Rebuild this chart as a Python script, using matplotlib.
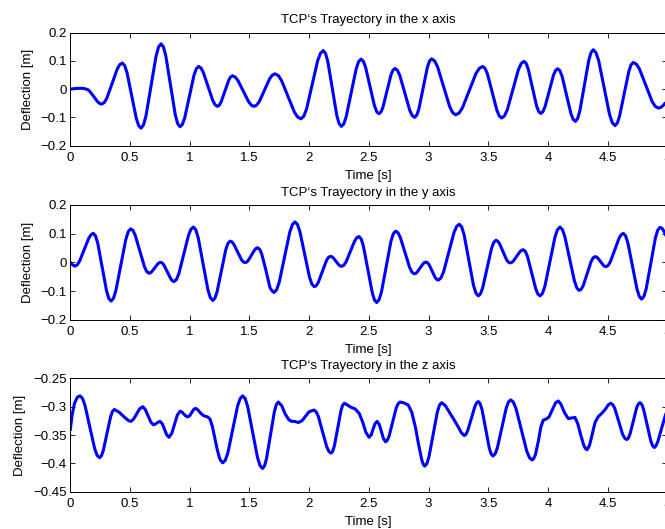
import matplotlib
matplotlib.use("Agg")
import matplotlib.pyplot as plt
from matplotlib.ticker import FixedLocator, FuncFormatter

plt.rcParams['font.family'] = ['Liberation Sans', 'DejaVu Sans']
plt.rcParams['font.size'] = 9.5

# ---------------- data ----------------
t_x = [0.0, 0.04, 0.09, 0.115, 0.13, 0.1466, 0.163, 0.1965, 0.23, 0.2464, 0.263,
       0.285, 0.306, 0.350, 0.393, 0.414, 0.436,
       0.4555, 0.475, 0.514, 0.553, 0.5725, 0.592,
       0.613, 0.634, 0.676, 0.718, 0.739, 0.760,
       0.780, 0.800, 0.8395, 0.879, 0.899, 0.919,
       0.9385, 0.958, 0.997, 1.036, 1.0555, 1.075,
       1.0946, 1.114, 1.1535, 1.193, 1.2124, 1.232,
       1.2478, 1.2635, 1.295, 1.3265, 1.3422, 1.358,
       1.3806, 1.403, 1.4485, 1.494, 1.5164, 1.539,
       1.5609, 1.583, 1.6265, 1.670, 1.6921, 1.714,
       1.7413, 1.7685, 1.823, 1.8775, 1.9048, 1.932,
       1.9554, 1.979, 2.0255, 2.072, 2.0956, 2.119,
       2.1379, 2.157, 2.1945, 2.232, 2.2511, 2.270,
       2.2906, 2.311, 2.3525, 2.394, 2.4144, 2.435,
       2.4538, 2.4725, 2.510, 2.5475, 2.5663, 2.585,
       2.6018, 2.6185, 2.652, 2.6855, 2.7023, 2.719,
       2.7396, 2.760, 2.8015, 2.843, 2.8634, 2.884,
       2.9018, 2.9195, 2.955, 2.9905, 3.0083, 3.026,
       3.0513, 3.0765, 3.127, 3.1775, 3.2028, 3.228,
       3.2563, 3.2845, 3.341, 3.3975, 3.4258, 3.454,
       3.4739, 3.494, 3.5335, 3.573, 3.5931, 3.613,
       3.6364, 3.660, 3.7065, 3.753, 3.7766, 3.800,
       3.8175, 3.835, 3.870, 3.905, 3.9225, 3.940,
       3.9578, 3.9755, 4.011, 4.0465, 4.0643, 4.082,
       4.1005, 4.119, 4.156, 4.193, 4.2115, 4.230,
       4.2488, 4.2675, 4.305, 4.3425, 4.3613, 4.380,
       4.4028, 4.4255, 4.471, 4.5165, 4.5393, 4.562,
       4.5811, 4.600, 4.6385, 4.677, 4.6959, 4.715,
       4.7413, 4.7675, 4.820, 4.8725, 4.8988, 4.925,
       4.945, 4.965, 4.98, 5.0]

x_defl = [0.0, 0.002, 0.003, 0.002, 0.0, -0.002, -0.0077, -0.0265, -0.0453, -0.051, -0.053,
          -0.0475, -0.032, 0.0195, 0.071, 0.0865, 0.092,
          0.083, 0.058, -0.023, -0.104, -0.129, -0.138,
          -0.1267, -0.094, 0.011, 0.116, 0.1487, 0.160,
          0.149, 0.117, 0.0135, -0.090, -0.122, -0.133,
          -0.125, -0.102, -0.0265, 0.049, 0.072, 0.080,
          0.0746, 0.059, 0.0095, -0.040, -0.0556, -0.061,
          -0.0569, -0.045, -0.007, 0.031, 0.0429, 0.047,
          0.0429, 0.031, -0.007, -0.045, -0.0569, -0.061,
          -0.0566, -0.044, -0.0035, 0.037, 0.0496, 0.054,
          0.048, 0.031, -0.0255, -0.082, -0.099, -0.105,
          -0.0958, -0.070, 0.0155, 0.101, 0.1268, 0.136,
          0.1258, 0.097, 0.002, -0.093, -0.1218, -0.132,
          -0.123, -0.097, -0.013, 0.071, 0.097, 0.106,
          0.0987, 0.078, 0.0095, -0.059, -0.0797, -0.087,
          -0.0809, -0.064, -0.007, 0.050, 0.0669, 0.073,
          0.0664, 0.048, -0.0135, -0.075, -0.0934, -0.100,
          -0.0921, -0.070, 0.0035, 0.077, 0.0991, 0.107,
          0.0995, 0.078, 0.008, -0.062, -0.0835, -0.091,
          -0.0845, -0.066, -0.0055, 0.055, 0.0735, 0.080,
          0.0731, 0.053, -0.011, -0.075, -0.0951, -0.102,
          -0.0944, -0.073, -0.002, 0.069, 0.0904, 0.098,
          0.091, 0.071, 0.006, -0.059, -0.079, -0.086,
          -0.080, -0.063, -0.007, 0.049, 0.066, 0.072,
          0.0649, 0.045, -0.021, -0.087, -0.1069, -0.114,
          -0.1044, -0.077, 0.0125, 0.102, 0.1294, 0.139,
          0.1288, 0.100, 0.005, -0.090, -0.1188, -0.129,
          -0.1205, -0.096, -0.0175, 0.061, 0.0855, 0.094,
          0.0879, 0.0705, 0.0135, -0.0435, -0.0609, -0.067,
          -0.065, -0.058, -0.051, -0.043]

t_y = [0.0, 0.01, 0.02, 0.03, 0.039,
       0.0583, 0.0775, 0.116, 0.1545, 0.1738, 0.193,
       0.2115, 0.230, 0.267, 0.304, 0.3225, 0.341,
       0.3616, 0.382, 0.4235, 0.465, 0.4854, 0.506,
       0.5251, 0.544, 0.5825, 0.621, 0.6399, 0.659,
       0.6713, 0.6835, 0.708, 0.7325, 0.7448, 0.757,
       0.771, 0.785, 0.813, 0.841, 0.855, 0.869,
       0.8893, 0.9095, 0.950, 0.9905, 1.0108, 1.031,
       1.0513, 1.0715, 1.112, 1.1525, 1.1728, 1.193,
       1.2111, 1.229, 1.2655, 1.302, 1.3199, 1.338,
       1.3538, 1.3695, 1.401, 1.4325, 1.4483, 1.464,
       1.4773, 1.4905, 1.517, 1.5435, 1.5568, 1.570,
       1.587, 1.604, 1.638, 1.672, 1.689, 1.706,
       1.728, 1.750, 1.794, 1.838, 1.860, 1.882,
       1.9023, 1.9225, 1.963, 2.0035, 2.0238, 2.044,
       2.0608, 2.0775, 2.111, 2.1445, 2.1613, 2.178,
       2.1899, 2.202, 2.2255, 2.249, 2.2611, 2.273,
       2.2911, 2.309, 2.3455, 2.382, 2.3999, 2.418,
       2.4365, 2.455, 2.492, 2.529, 2.5475, 2.566,
       2.5859, 2.606, 2.6455, 2.685, 2.7051, 2.725,
       2.7445, 2.764, 2.803, 2.842, 2.8615, 2.881,
       2.8933, 2.9055, 2.930, 2.9545, 2.9668, 2.979,
       2.9919, 3.005, 3.0305, 3.056, 3.0691, 3.082,
       3.104, 3.126, 3.170, 3.214, 3.236, 3.258,
       3.2779, 3.298, 3.3375, 3.377, 3.3971, 3.417,
       3.4355, 3.454, 3.491, 3.528, 3.5465, 3.565,
       3.5798, 3.5945, 3.624, 3.6535, 3.6683, 3.683,
       3.6969, 3.711, 3.7385, 3.766, 3.7801, 3.794,
       3.8115, 3.829, 3.864, 3.899, 3.9165, 3.934,
       3.9549, 3.9755, 4.0175, 4.059, 4.0801, 4.101,
       4.1213, 4.1415, 4.182, 4.2225, 4.2428, 4.263,
       4.2795, 4.296, 4.329, 4.362, 4.3785, 4.395,
       4.4065, 4.418, 4.441, 4.464, 4.4755, 4.487,
       4.5051, 4.523, 4.5595, 4.596, 4.6139, 4.632,
       4.6511, 4.670, 4.7085, 4.747, 4.7659, 4.785,
       4.8043, 4.8235, 4.862, 4.9005, 4.9198, 4.939,
       4.955, 4.97, 4.985, 5.0]

y_defl = [0.0, -0.005, -0.009, -0.0118, -0.013,
          -0.0087, 0.004, 0.044, 0.084, 0.0967, 0.101,
          0.092, 0.0665, -0.017, -0.1005, -0.126, -0.135,
          -0.1254, -0.098, -0.009, 0.080, 0.1074, 0.117,
          0.1111, 0.094, 0.0395, -0.015, -0.0321, -0.038,
          -0.0366, -0.032, -0.019, -0.0055, -0.0014, 0.0,
          -0.0025, -0.010, -0.0335, -0.057, -0.0645, -0.067,
          -0.0598, -0.039, 0.028, 0.095, 0.1158, 0.123,
          0.1133, 0.0855, -0.005, -0.0955, -0.1233, -0.133,
          -0.1251, -0.103, -0.0295, 0.044, 0.0661, 0.074,
          0.0712, 0.063, 0.0365, 0.010, 0.0018, -0.001,
          0.001, 0.0066, 0.025, 0.0434, 0.049, 0.051,
          0.0451, 0.028, -0.027, -0.088, -0.0991, -0.105,
          -0.0957, -0.069, 0.018, 0.105, 0.1317, 0.141,
          0.1324, 0.108, 0.028, -0.052, -0.0764, -0.085,
          -0.081, -0.0695, -0.032, 0.0055, 0.017, 0.021,
          0.0197, 0.016, 0.0035, -0.009, -0.0127, -0.014,
          -0.010, 0.001, 0.038, 0.075, 0.086, 0.090,
          0.0813, 0.056, -0.025, -0.106, -0.1313, -0.140,
          -0.1305, -0.1035, -0.0155, 0.0725, 0.0995, 0.109,
          0.1033, 0.087, 0.0345, -0.018, -0.0343, -0.040,
          -0.0384, -0.034, -0.0195, -0.005, -0.0006, 0.001,
          -0.0014, -0.008, -0.0305, -0.053, -0.0596, -0.062,
          -0.0546, -0.0335, 0.0355, 0.1045, 0.1256, 0.133,
          0.1235, 0.0965, 0.008, -0.0805, -0.1075, -0.117,
          -0.1096, -0.0885, -0.020, 0.0485, 0.0696, 0.077,
          0.074, 0.0655, 0.0375, 0.0095, 0.001, -0.002,
          -0.0003, 0.0047, 0.021, 0.0373, 0.0423, 0.044,
          0.0379, 0.0205, -0.0365, -0.0935, -0.1109, -0.117,
          -0.1079, -0.082, 0.003, 0.088, 0.1139, 0.123,
          0.1146, 0.0905, 0.0125, -0.0655, -0.0896, -0.098,
          -0.0935, -0.081, -0.039, 0.003, 0.0155, 0.020,
          0.0187, 0.015, 0.0025, -0.010, -0.0137, -0.015,
          -0.0106, 0.002, 0.043, 0.084, 0.0966, 0.101,
          0.0923, 0.0675, -0.0135, -0.0945, -0.1193, -0.128,
          -0.1185, -0.0915, -0.003, 0.0855, 0.1125, 0.122,
          0.119, 0.110, 0.097, 0.082]

t_z = [0.0, 0.015, 0.035, 0.06, 0.081,
       0.1015, 0.122, 0.163, 0.204, 0.2245, 0.245,
       0.2605, 0.276, 0.307, 0.338, 0.3535, 0.369,
       0.41, 0.45, 0.49, 0.508,
       0.53, 0.555, 0.58, 0.606,
       0.628, 0.651, 0.674, 0.696,
       0.71, 0.724, 0.738, 0.751,
       0.77, 0.789, 0.808, 0.827,
       0.85, 0.873, 0.896, 0.919,
       0.935, 0.951, 0.967, 0.983,
       1.0, 1.0165, 1.033, 1.050,
       1.07, 1.09, 1.11, 1.13, 1.15, 1.17, 1.19, 1.21, 1.23, 1.25, 1.263, 1.277,
       1.2979, 1.319, 1.3605, 1.402, 1.4231, 1.444,
       1.4648, 1.4855, 1.527, 1.5685, 1.5893, 1.610,
       1.6265, 1.643, 1.676, 1.709, 1.7255, 1.742,
       1.77, 1.80, 1.83, 1.854, 1.88, 1.91, 1.94, 1.97, 2.0, 2.041,
       2.0589, 2.077, 2.1125, 2.148, 2.1661, 2.184,
       2.1979, 2.212, 2.2395, 2.267, 2.2811, 2.295,
       2.32, 2.35, 2.385, 2.42, 2.45, 2.475, 2.502,
       2.52, 2.535, 2.552, 2.569,
       2.587, 2.6045, 2.622, 2.64,
       2.6551, 2.67, 2.70, 2.73, 2.7459, 2.761,
       2.79, 2.83, 2.86, 2.89, 2.92, 2.945, 2.957, 2.968,
       2.9858, 3.0035, 3.039, 3.0745, 3.0923, 3.110,
       3.14, 3.17, 3.208, 3.25, 3.275, 3.300,
       3.3146, 3.329, 3.3585, 3.388, 3.4024, 3.417,
       3.4324, 3.448, 3.4785, 3.509, 3.5246, 3.540,
       3.5585, 3.577, 3.614, 3.651, 3.6695, 3.688,
       3.7105, 3.733, 3.778, 3.823, 3.8455, 3.868,
       3.88, 3.895, 3.92, 3.94, 3.96, 3.985, 4.01, 4.04, 4.065, 4.087,
       4.11, 4.14, 4.171, 4.2, 4.227, 4.25, 4.275, 4.30, 4.315, 4.327,
       4.338, 4.35, 4.375, 4.395, 4.42, 4.45, 4.48, 4.505, 4.526,
       4.5428, 4.56, 4.593, 4.626, 4.6433, 4.66,
       4.6739, 4.688, 4.7155, 4.743, 4.7571, 4.771,
       4.7861, 4.801, 4.8315, 4.862, 4.8769, 4.892,
       4.905, 4.92, 4.95, 4.98, 5.0]

z_defl = [-0.341, -0.315, -0.294, -0.283, -0.281,
          -0.2851, -0.297, -0.3355, -0.374, -0.3859, -0.390,
          -0.3868, -0.3776, -0.3475, -0.3174, -0.3082, -0.305,
          -0.310, -0.318, -0.325, -0.326,
          -0.322, -0.313, -0.304, -0.300,
          -0.305, -0.316, -0.327, -0.332,
          -0.331, -0.329, -0.327, -0.326,
          -0.330, -0.340, -0.350, -0.354,
          -0.347, -0.331, -0.315, -0.308,
          -0.3095, -0.313, -0.3165, -0.318,
          -0.316, -0.3105, -0.305, -0.303,
          -0.306, -0.311, -0.315, -0.317, -0.318, -0.322, -0.335, -0.355, -0.375, -0.391, -0.396, -0.399,
          -0.3945, -0.382, -0.340, -0.298, -0.2855, -0.281,
          -0.2859, -0.2997, -0.345, -0.3903, -0.4041, -0.409,
          -0.4046, -0.392, -0.3505, -0.309, -0.2964, -0.292,
          -0.298, -0.313, -0.323, -0.326, -0.326, -0.328, -0.325, -0.317, -0.309, -0.306,
          -0.3089, -0.317, -0.344, -0.371, -0.3791, -0.382,
          -0.3787, -0.369, -0.338, -0.307, -0.2973, -0.294,
          -0.297, -0.301, -0.304, -0.312, -0.328, -0.345, -0.354,
          -0.350, -0.340, -0.330, -0.326,
          -0.331, -0.343, -0.356, -0.362,
          -0.3593, -0.352, -0.327, -0.302, -0.2947, -0.292,
          -0.293, -0.297, -0.310, -0.336, -0.370, -0.395, -0.402, -0.405,
          -0.4007, -0.389, -0.349, -0.309, -0.2973, -0.293,
          -0.298, -0.308, -0.321, -0.336, -0.346, -0.351,
          -0.3487, -0.342, -0.321, -0.300, -0.2933, -0.291,
          -0.2946, -0.305, -0.339, -0.373, -0.3834, -0.387,
          -0.3832, -0.3725, -0.3375, -0.3025, -0.2918, -0.288,
          -0.292, -0.3035, -0.341, -0.3785, -0.390, -0.394,
          -0.392, -0.385, -0.361, -0.337, -0.324, -0.322, -0.318, -0.304, -0.293, -0.290,
          -0.296, -0.311, -0.321, -0.320, -0.319, -0.330, -0.350, -0.368, -0.374, -0.376,
          -0.373, -0.367, -0.345, -0.328, -0.318, -0.312, -0.305, -0.297, -0.294,
          -0.2964, -0.303, -0.326, -0.349, -0.3556, -0.358,
          -0.3555, -0.348, -0.3255, -0.302, -0.2955, -0.293,
          -0.296, -0.3045, -0.3325, -0.3605, -0.369, -0.372,
          -0.369, -0.362, -0.340, -0.318, -0.305]

x_ticks = [0, 0.5, 1, 1.5, 2, 2.5, 3, 3.5, 4, 4.5, 5]
xy_yticks = [-0.2, -0.1, 0, 0.1, 0.2]
z_yticks = [-0.45, -0.4, -0.35, -0.3, -0.25]

titles = ["TCP\u2018s Trayectory in the x axis",
          "TCP\u2018s Trayectory in the y axis",
          "TCP\u2018s Trayectory in the z axis"]

series = [(t_x, x_defl, xy_yticks), (t_y, y_defl, xy_yticks), (t_z, z_defl, z_yticks)]

# ---------------- figure ----------------
W, H = 665, 529
fig = plt.figure(figsize=(W / 100, H / 100), dpi=100)

left_px, right_px = 70.3, 667.3
tops_bottoms = [(32.5, 145.7), (205.0, 319.7), (378.3, 491.7)]

fmt = FuncFormatter(lambda v, p: ('%g' % round(v, 4)).replace('-', '\u2212'))

for (top, bot), (tt, vv, yt), title in zip(tops_bottoms, series, titles):
    ax = fig.add_axes([left_px / W, 1 - bot / H, (right_px - left_px) / W, (bot - top) / H])
    ax.plot(tt, vv, color=(0, 0, 1), linewidth=2.2,
            solid_joinstyle='round', solid_capstyle='round')
    ax.set_xlim(0, 5)
    ax.set_ylim(yt[0], yt[-1])
    ax.xaxis.set_major_locator(FixedLocator(x_ticks))
    ax.yaxis.set_major_locator(FixedLocator(yt))
    ax.xaxis.set_major_formatter(fmt)
    ax.yaxis.set_major_formatter(fmt)
    ax.tick_params(direction='in', length=3.6, width=0.6, top=True, right=True,
                   labelsize=9.5, colors='black')
    ax.tick_params(axis='x', pad=4.5)
    ax.tick_params(axis='y', pad=2.5)
    for s in ax.spines.values():
        s.set_linewidth(0.7)
        s.set_color('black')
    ax.set_xlabel('Time [s]', fontsize=9.5, labelpad=4.0)
    ax.set_ylabel('Deflection [m]', fontsize=9.5, labelpad=5)
    ax.set_title(title, fontsize=9.5, pad=6.5)

fig.savefig('out.png', dpi=100)
